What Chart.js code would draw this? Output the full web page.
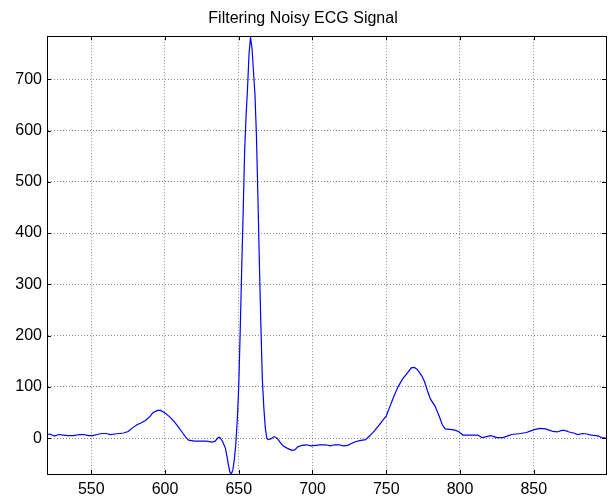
<!DOCTYPE html>
<html>
<head>
<meta charset="utf-8">
<script src="https://cdn.jsdelivr.net/npm/chart.js@4"></script>
<style>
  html, body { margin: 0; padding: 0; background: #ffffff; }
  #wrap { width: 609px; height: 497px; }
</style>
</head>
<body>
<div id="wrap"><canvas id="ecgChart" width="609" height="497"></canvas></div>
<script>
// sample index (x) and filtered ECG amplitude (y)
const sampleIdx = [
  520, 522, 525, 528, 531, 534, 538, 542, 545, 548, 551, 554, 557, 560, 563, 566, 569, 572, 575, 578,
  581, 584, 587, 590, 592, 595, 597, 600, 603, 606, 609, 612, 614, 616, 620, 624, 628, 632, 634, 636,
  637, 639, 641, 642, 643, 644, 645, 646, 647, 648, 649, 650, 651, 652, 653, 654, 655, 656, 657, 658,
  659, 660, 661, 662, 663, 664, 665, 666, 667, 668, 669, 670, 672, 674, 676, 678, 680, 683, 686, 688,
  690, 693, 696, 699, 702, 705, 709, 712, 715, 718, 721, 724, 726, 729, 732, 736, 739, 742, 745, 748,
  750, 752, 755, 758, 761, 764, 767, 769, 771, 774, 776, 778, 780, 783, 786, 788, 790, 793, 796, 799,
  802, 805, 809, 812, 815, 818, 821, 823, 825, 829, 832, 835, 838, 841, 845, 848, 851, 854, 858, 861,
  863, 866, 869, 871, 874, 877, 880, 883, 886, 889, 892, 894, 896, 899
];
const ecgValues = [
  7, 8, 4, 7, 6, 5, 5, 7, 7, 5, 5, 7, 9, 9, 7, 8, 9, 10, 13, 20,
  26, 30, 35, 43, 50, 54, 54, 49, 42, 33, 22, 10, 2, -4, -6, -6, -6, -8, -6, 1,
  2, -6, -20, -35, -52, -66, -70, -62, -42, -12, 35, 100, 210, 330, 440, 560, 630, 685, 750, 782,
  760, 715, 670, 590, 470, 340, 220, 115, 60, 20, 0, -3, -1, 3, 0, -8, -15, -20, -24, -23,
  -17, -14, -13, -15, -14, -13, -13, -15, -13, -13, -15, -14, -11, -7, -5, -3, 5, 14, 25, 36,
  43, 58, 80, 100, 115, 126, 137, 138, 134, 122, 110, 92, 76, 63, 42, 26, 18, 17, 16, 13,
  6, 6, 6, 6, 1, 3, 5, 3, 1, 1, 4, 7, 8, 9, 11, 14, 17, 19, 18, 15,
  13, 12, 15, 15, 12, 10, 7, 9, 8, 6, 5, 4, 1, 0
];
const xTicks = [550, 600, 650, 700, 750, 800, 850];
const yTicks = [0, 100, 200, 300, 400, 500, 600, 700];

const font = 'Arial, "Liberation Sans", sans-serif';

// MATLAB style box with inward tick marks
const boxPlugin = {
  id: 'matlabBox',
  afterDraw(chart) {
    const { ctx, chartArea: a, scales } = chart;
    ctx.save();
    ctx.strokeStyle = '#000';
    ctx.lineWidth = 1;
    ctx.beginPath();
    xTicks.forEach(v => {
      const px = Math.round(scales.x.getPixelForValue(v)) + 0.5;
      ctx.moveTo(px, a.bottom); ctx.lineTo(px, a.bottom - 4);
      ctx.moveTo(px, a.top); ctx.lineTo(px, a.top + 4);
    });
    yTicks.forEach(v => {
      const py = Math.round(scales.y.getPixelForValue(v)) + 0.5;
      ctx.moveTo(a.left, py); ctx.lineTo(a.left + 4, py);
      ctx.moveTo(a.right, py); ctx.lineTo(a.right - 4, py);
    });
    ctx.stroke();
    ctx.strokeRect(Math.round(a.left) + 0.5, Math.round(a.top) + 0.5,
      Math.round(a.right - a.left), Math.round(a.bottom - a.top));
    ctx.restore();
  }
};

new Chart(document.getElementById('ecgChart'), {
  type: 'line',
  data: {
    datasets: [{
      data: sampleIdx.map((x, i) => ({ x: x, y: ecgValues[i] })),
      borderColor: 'rgb(0, 0, 255)',
      borderWidth: 1.2,
      pointRadius: 0,
      tension: 0,
      fill: false
    }]
  },
  options: {
    responsive: false,
    animation: false,
    layout: { padding: { left: 0, right: 3, top: 0, bottom: 0 } },
    plugins: {
      legend: { display: false },
      tooltip: { enabled: false },
      title: {
        display: true,
        text: 'Filtering Noisy ECG Signal',
        color: '#000',
        font: { family: font, size: 16, weight: 'normal' },
        padding: { top: 9, bottom: 8 }
      }
    },
    scales: {
      x: {
        type: 'linear',
        min: 520,
        max: 899,
        afterBuildTicks: s => { s.ticks = xTicks.map(v => ({ value: v })); },
        afterFit: s => { s.height = 23; },
        grid: { color: 'rgba(0,0,0,0.45)', tickLength: 0, drawTicks: false },
        border: { display: true, color: '#000', dash: [1, 2] },
        ticks: { color: '#000', padding: 6, maxRotation: 0, font: { family: font, size: 16 } }
      },
      y: {
        type: 'linear',
        min: -70,
        max: 784,
        afterBuildTicks: s => { s.ticks = yTicks.map(v => ({ value: v })); },
        afterFit: s => { s.width = 47; },
        grid: { color: 'rgba(0,0,0,0.45)', tickLength: 0, drawTicks: false },
        border: { display: true, color: '#000', dash: [1, 2] },
        ticks: { color: '#000', padding: 5, font: { family: font, size: 16 } }
      }
    }
  },
  plugins: [boxPlugin]
});
</script>
</body>
</html>
